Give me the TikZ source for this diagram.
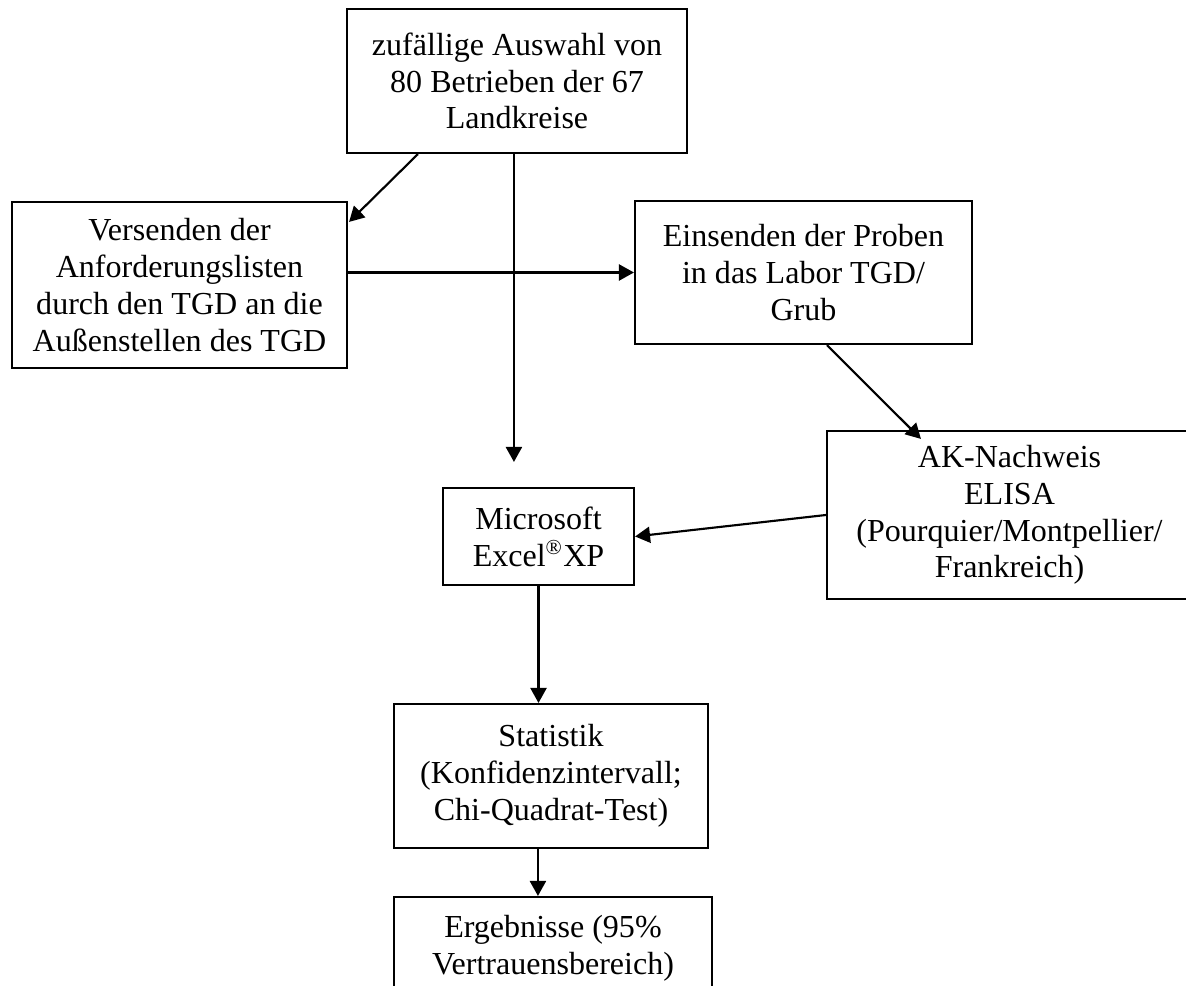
\documentclass[tikz,border=0pt]{standalone}
\usepackage{fontspec}
\setmainfont{Liberation Serif}
\usetikzlibrary{arrows.meta,calc}
\newdimen\pxu \pxu=0.3745pt

\begin{document}
\begin{tikzpicture}[x=0.3745pt,y=-0.3745pt,
  box/.style={draw,line width=0.8pt,align=center,inner sep=0pt,
    font=\fontsize{12pt}{13.8pt}\selectfont},
  arr/.style={line width=0.8pt,-{Triangle[length=5.6pt,width=6pt]}}]
\useasboundingbox (0,0) rectangle (1186,986);

\node[box,minimum width=340\pxu,minimum height=144\pxu] (auswahl) at (517,81)
  {zufällige Auswahl von\\80 Betrieben der 67\\Landkreise};
\node[box,minimum width=335\pxu,minimum height=166\pxu] (versand) at (179.5,285)
  {Versenden der\\Anforderungslisten\\durch den TGD an die\\Außenstellen des TGD};
\node[box,minimum width=337\pxu,minimum height=143\pxu] (proben) at (803.5,272.5)
  {Einsenden der Proben\\in das Labor TGD/\\Grub};
\node[box,minimum width=365\pxu,minimum height=168\pxu] (ak) at (1009.5,515)
  {AK-Nachweis\\ELISA\\(Pourquier/Montpellier/\\Frankreich)};
\node[box,minimum width=191\pxu,minimum height=97\pxu] (excel) at (538.5,536.5)
  {Microsoft\\Excel\textsuperscript{®}XP};
\node[box,minimum width=314\pxu,minimum height=144\pxu] (statistik) at (551,776)
  {Statistik\\(Konfidenzintervall;\\Chi-Quadrat-Test)};
\node[box,minimum width=318\pxu,minimum height=102\pxu] (ergebnis) at (553,948)
  {Ergebnisse (95\%\\Vertrauensbereich)};

% Verbindungen
\draw[arr] ($(auswahl.south west)+(72,0)$) -- ($(versand.north east)+(1,21)$);
\draw[arr] ($(auswahl.south west)+(168,0)$) -- ($(excel.north west)+(72,-25)$);
\draw[arr] (versand.east |- proben.west) -- (proben.west);
\draw[arr] ($(proben.south west)+(193,0)$) -- ($(ak.north west)+(95,9)$);
\draw[arr] (ak.west) -- (excel.east);
\draw[arr] (excel.south) -- (excel.south |- statistik.north);
\draw[arr] ($(statistik.south west)+(145,0)$) -- ($(ergebnis.north west)+(145,0)$);
\end{tikzpicture}
\end{document}
